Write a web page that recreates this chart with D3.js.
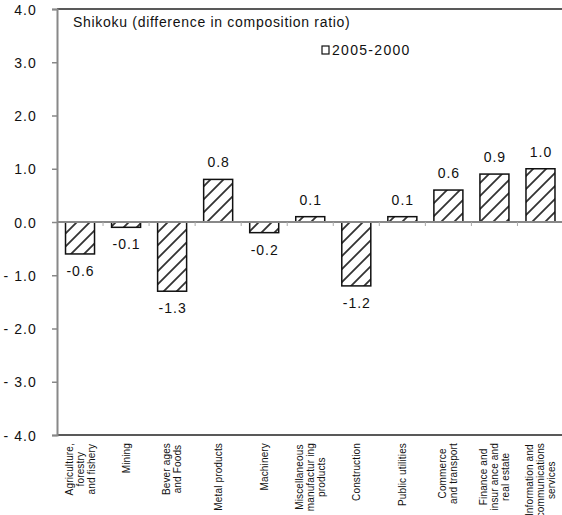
<!DOCTYPE html>
<html>
<head>
<meta charset="utf-8">
<script src="https://cdn.jsdelivr.net/npm/d3@7/dist/d3.min.js"></script>
<style>
  html, body { margin: 0; padding: 0; background: #fff; }
  svg { display: block; font-family: "Liberation Sans", Arial, sans-serif; }
</style>
</head>
<body>
<svg id="chart" width="562" height="515"></svg>
<script>
// Industry categories (multi-line labels split with "\n")
const categories = [
  "Agriculture,\nforestry\nand fishery",
  "Mining",
  "Bever ages\nand Foods",
  "Metal products",
  "Machinery",
  "Miscellaneous\nmanufactur ing\nproducts",
  "Construction",
  "Public utilities",
  "Commerce\nand transport",
  "Finance and\ninsur ance and\nreal estate",
  "Information  and\ncommunications\nservices"
];
// Difference in composition ratio, 2005-2000
const values = [-0.6, -0.1, -1.3, 0.8, -0.2, 0.1, -1.2, 0.1, 0.6, 0.9, 1.0];
const valueLabels = ["-0.6", "-0.1", "-1.3", "0.8", "-0.2", "0.1", "-1.2", "0.1", "0.6", "0.9", "1.0"];
const yTicks = [4, 3, 2, 1, 0, -1, -2, -3, -4];
const yTickLabels = ["4.0", "3.0", "2.0", "1.0", "0.0", "- 1.0", "- 2.0", "- 3.0", "- 4.0"];
const seriesName = "2005-2000";
const title = "Shikoku (difference in composition ratio)";

const svg = d3.select("#chart");
const plotLeft = 57, plotRight = 563.5, plotTop = 9, plotBottom = 435;

const x = d3.scaleBand().domain(d3.range(categories.length))
  .range([plotLeft, plotRight]).paddingInner(0.37).paddingOuter(0.185);
const xOuter = d3.scaleBand().domain(d3.range(categories.length)).range([plotLeft, plotRight]);
const y = d3.scaleLinear().domain([-4, 4]).range([plotBottom, plotTop]);

// diagonal hatch fill
const defs = svg.append("defs");
const pat = defs.append("pattern").attr("id", "hatch")
  .attr("patternUnits", "userSpaceOnUse").attr("width", 13).attr("height", 13);
pat.append("rect").attr("width", 13).attr("height", 13).attr("fill", "#fff");
pat.append("path").attr("d", "M-3.25,3.25 L3.25,-3.25 M0,13 L13,0 M9.75,16.25 L16.25,9.75")
  .attr("stroke", "#333").attr("stroke-width", 1.8);

// frame: top and bottom lines
svg.append("line").attr("x1", plotLeft).attr("x2", 562).attr("y1", plotTop).attr("y2", plotTop)
  .attr("stroke", "#222").attr("stroke-width", 1.6);
svg.append("line").attr("x1", plotLeft).attr("x2", 562).attr("y1", plotBottom).attr("y2", plotBottom)
  .attr("stroke", "#222").attr("stroke-width", 1.6);

// y axis
const yAxis = d3.axisLeft(y).tickValues(yTicks).tickSize(5)
  .tickFormat((d, i) => yTickLabels[i]);
const ya = svg.append("g").attr("transform", `translate(${plotLeft},0)`).call(yAxis);
ya.select(".domain").attr("stroke", "#888").attr("stroke-width", 2);
ya.selectAll(".tick line").attr("stroke", "#888").attr("stroke-width", 1.5);
ya.selectAll(".tick text").attr("font-size", 14).attr("fill", "#111")
  .attr("letter-spacing", 1.1)
  .attr("x", -20).attr("dy", "0.36em").attr("font-family", "Liberation Sans, Arial, sans-serif");

// bars
svg.append("g").selectAll("rect").data(values).join("rect")
  .attr("x", (d, i) => x(i))
  .attr("width", x.bandwidth())
  .attr("y", d => y(Math.max(0, d)))
  .attr("height", d => Math.abs(y(d) - y(0)))
  .attr("fill", "url(#hatch)")
  .attr("stroke", "#111").attr("stroke-width", 1.5);

// zero line with category dividers
svg.append("line").attr("x1", plotLeft).attr("x2", 562).attr("y1", y(0)).attr("y2", y(0))
  .attr("stroke", "#888").attr("stroke-width", 2);
svg.append("g").selectAll("line").data(d3.range(1, categories.length)).join("line")
  .attr("x1", i => xOuter(i)).attr("x2", i => xOuter(i))
  .attr("y1", y(0)).attr("y2", y(0) + 4)
  .attr("stroke", "#aaa").attr("stroke-width", 1);

// value labels
svg.append("g").selectAll("text").data(values).join("text")
  .attr("x", (d, i) => x(i) + x.bandwidth() / 2 + 0.5)
  .attr("y", d => d >= 0 ? y(d) - 12 : y(d) + 22)
  .attr("text-anchor", "middle")
  .attr("font-size", 14).attr("letter-spacing", 1).attr("fill", "#111")
  .text((d, i) => valueLabels[i]);

// category labels, rotated, block anchored just under the axis with centred lines
const labelTop = 443, lineGap = 11;
categories.forEach((c, i) => {
  const lines = c.split("\n");
  const cx = xOuter(i) + xOuter.bandwidth() / 2;
  const g = svg.append("g");
  const texts = lines.map(ln => g.append("text")
    .attr("font-size", 10).attr("letter-spacing", 0.15).attr("fill", "#111")
    .attr("text-anchor", "middle")
    .text(ln));
  const maxW = d3.max(texts, t => t.node().getComputedTextLength());
  const cy = labelTop + maxW / 2;
  const n = lines.length;
  texts.forEach((t, j) => {
    const off = (j - (n - 1) / 2) * lineGap;
    t.attr("transform", `translate(${cx + off + 3.5},${cy}) rotate(-90)`);
  });
});

// title
svg.append("text").attr("x", 73).attr("y", 27).attr("font-size", 14)
  .attr("letter-spacing", 0.7).attr("fill", "#111").text(title);

// legend
svg.append("rect").attr("x", 322).attr("y", 46).attr("width", 7).attr("height", 8)
  .attr("fill", "#fff").attr("stroke", "#111").attr("stroke-width", 1.2);
svg.append("text").attr("x", 332).attr("y", 55).attr("font-size", 14)
  .attr("letter-spacing", 1.3).attr("fill", "#111").text(seriesName);
</script>
</body>
</html>
